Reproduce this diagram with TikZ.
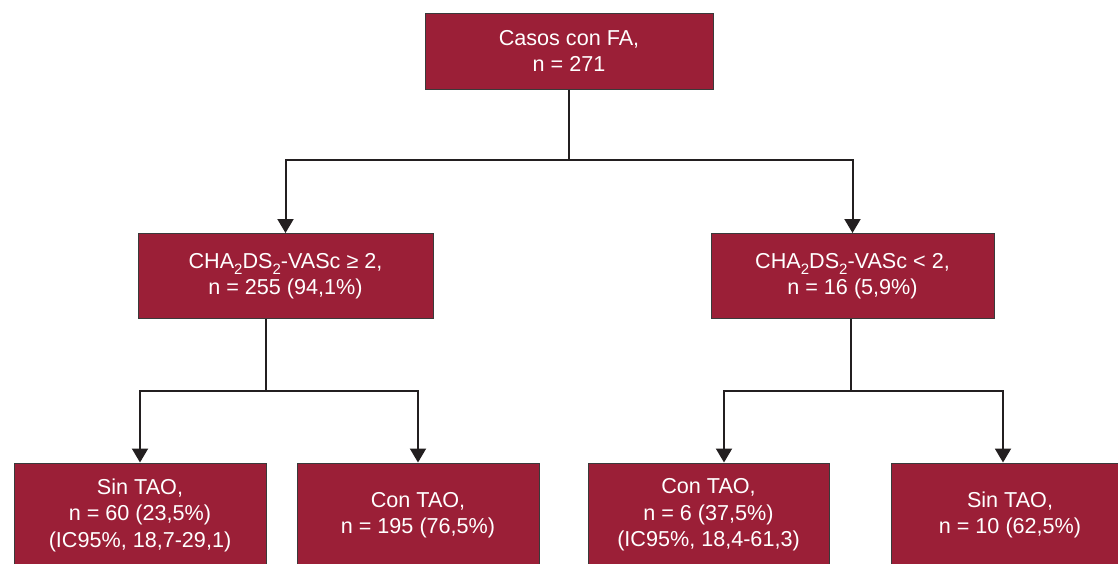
\documentclass[tikz,border=0pt]{standalone}
\usepackage{fontspec}
\setmainfont{Liberation Sans}
\usetikzlibrary{arrows.meta}
\definecolor{boxred}{HTML}{9B1F37}
\definecolor{boxline}{HTML}{3A3A3A}
\definecolor{conn}{HTML}{231F20}
\newcommand{\sbsc}[1]{\raisebox{-0.28em}{\fontsize{15}{15}\selectfont #1}}
\tikzset{
  box/.style={rectangle, draw=boxline, line width=1pt, fill=boxred, text=white,
    align=center, inner sep=0pt, font=\fontsize{21.6}{26.5}\selectfont},
  link/.style={draw=conn, line width=2pt},
  arr/.style={link, -{Triangle[width=16pt,length=14pt]}}
}
\begin{document}
\begin{tikzpicture}[x=1pt,y=-1pt]
\useasboundingbox (0,0) rectangle (1118,563);
\clip (0,0) rectangle (1118,563);
\node[box, minimum width=288pt, minimum height=76pt] (n0) at (569,51) {Casos con FA,\\n = 271};
\node[box, minimum width=295pt, minimum height=85pt] (nL) at (285.5,276) {CHA\sbsc{2}DS\sbsc{2}-VASc ≥ 2,\\n = 255 (94,1\%)};
\node[box, minimum width=283pt, minimum height=85pt] (nR) at (852.5,276) {CHA\sbsc{2}DS\sbsc{2}-VASc < 2,\\n = 16 (5,9\%)};
\node[box, minimum width=252pt, minimum height=104pt] (nA) at (140,515) {Sin TAO,\\n = 60 (23,5\%)\\(IC95\%, 18,7-29,1)};
\node[box, minimum width=242pt, minimum height=104pt] (nB) at (418,515) {Con TAO,\\n = 195 (76,5\%)};
\node[box, minimum width=241pt, minimum height=104pt] (nC) at (708.5,515) {Con TAO,\\n = 6 (37,5\%)\\(IC95\%, 18,4-61,3)};
\node[box, minimum width=238pt, minimum height=104pt] (nD) at (1010,515) {Sin TAO,\\n = 10 (62,5\%)};
\coordinate (j0) at (569,160);
\coordinate (jL) at (266,391);
\coordinate (jR) at (851,391);
\coordinate (cC) at (724,0);
\coordinate (cD) at (1003,0);
\draw[link] (n0.south) -- (j0);
\draw[arr] (j0) -| (nL.north);
\draw[arr] (j0) -| (nR.north);
\draw[link] (jL |- nL.south) -- (jL);
\draw[arr] (jL) -| (nA.north);
\draw[arr] (jL) -| (nB.north);
\draw[link] (jR |- nR.south) -- (jR);
\draw[arr] (jR) -| (cC |- nC.north);
\draw[arr] (jR) -| (cD |- nD.north);
\end{tikzpicture}
\end{document}
